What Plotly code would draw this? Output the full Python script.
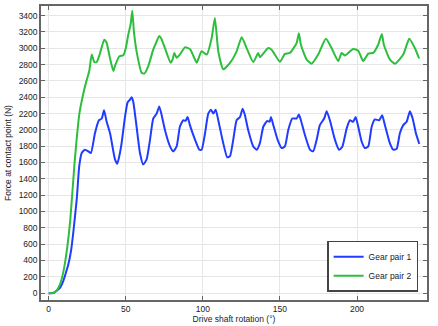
import plotly.graph_objects as go

# Drive shaft rotation (deg) and force (N) for each gear pair
x_pair1 = [0, 3, 5.2, 7.5, 9.5, 11, 12.7, 14.5, 16, 18.2, 19.8, 21.4, 23.5, 25.7, 27.4, 30, 32.6, 34.4, 35.9, 37.6,
           39.8, 43, 44.5, 46.2, 47.3, 49.5, 51.2, 52.7, 53.8, 54.9, 57, 59.2, 61.3, 63.5, 65.7, 67.8, 70, 71.7, 73.3,
           75.4, 78.7, 80.8, 83, 85.1, 87.3, 88.8, 90.1, 91.6, 94.9, 97.7, 99.2, 101.4, 103.5, 105.3, 106.8, 108.3,
           110, 113.2, 115.8, 117.6, 119.7, 121.9, 124.1, 125.8, 127.3, 129.4, 132.7, 134.9, 137, 139.2, 141.8, 143.3,
           144.2, 145.7, 148.5, 151.1, 153.2, 155.4, 158, 160.8, 162.3, 163.6, 166.2, 169.5, 171.6, 173.8, 175.9,
           178.7, 180.3, 182.4, 185.7, 188.3, 190.4, 193.3, 195.4, 197.5, 199.1, 200.8, 203, 205.1, 207.3, 209.5,
           211.6, 214.4, 216.3, 218.1, 221.3, 223.5, 225.7, 227.8, 230, 232.2, 234.3, 236.1, 238.2, 240.4]
y_pair1 = [0, 0, 29, 70, 150, 240, 350, 520, 752, 1154, 1555, 1717, 1757, 1737, 1717, 1958, 2118, 2139, 2239, 2098,
           1958, 1637, 1584, 1717, 1838, 2158, 2339, 2368, 2399, 2339, 2038, 1717, 1576, 1637, 1877, 2139, 2199, 2287,
           2179, 1998, 1797, 1736, 1797, 2038, 2118, 2110, 2158, 2058, 1880, 1757, 1757, 1958, 2199, 2247, 2199, 2247,
           2118, 1838, 1664, 1677, 1877, 2118, 2158, 2259, 2179, 1998, 1797, 1757, 1838, 2038, 2110, 2100,
           2158, 2058, 1877, 1777, 1797, 1998, 2139, 2139, 2187, 2118, 1938, 1757, 1737, 1877, 2058,
           2139, 2227, 2118, 1877, 1757, 1790, 2018, 2118, 2098, 2158, 2038, 1857, 1777, 1797, 2038,
           2127, 2118, 2179, 2058, 1838, 1757, 1767, 1958, 2058, 2098, 2227, 2139, 1958, 1829]

x_pair2 = [0, 3, 5, 7.3, 9.5, 11.7, 14, 16.6, 18.2, 19.9, 22.4, 24.5, 26.3, 27.9, 29.6, 31.1, 33, 36, 37.5, 39.5,
           41.9, 43, 45.8, 48.4, 50, 51.6, 53.2, 54.2, 55.3, 57, 60.3, 62, 64.6, 67.8, 69.5, 71.7, 73, 75.4, 79.1,
           80.5, 81.5, 83, 85, 88.4, 91.6, 94.9, 96, 99.2, 102.5, 105.7, 107.8, 110, 113.2, 117.6, 121.9, 125.2,
           128.4, 132.7, 135.9, 137, 142.4, 144.6, 150, 153.2, 156.5, 160.8, 162.3, 163.6, 167.3, 170.6, 174.8,
           179.8, 183.5, 187.8, 190, 192.2, 197.5, 200.8, 204, 207.3, 210.5, 213.7, 216.1, 217.4, 221.3, 224.6,
           230, 233.9, 237.5, 240.3]
y_pair2 = [0, 5, 30, 108, 260, 514, 900, 1555, 1900, 2200, 2440, 2600, 2720, 2922, 2830, 2830, 2920, 3103, 3070, 2900,
           2720, 2782, 2900, 2914, 3000, 3164, 3300, 3460, 3200, 2962, 2700, 2690, 2782, 2982, 3060, 3150, 3120, 3002,
           2821, 2870, 2942, 2882, 2920, 3010, 2990, 2861, 2821, 2962, 2922, 3123, 3370, 2962, 2742, 2821, 2962, 3135,
           3002, 2830, 2942, 2890, 3002, 2982, 2833, 2930, 2942, 3062, 3183, 3042, 2862, 2810, 2922,
           3115, 3002, 2842, 2942, 2910, 2990, 2970, 2842, 2934, 2942, 3042, 3175, 3042, 2862, 2810,
           2922, 3115, 3002, 2874]

x_ticks = [0, 50, 100, 150, 200]
y_ticks = list(range(0, 3401, 200))

FONT = "Liberation Sans"
AX = "#666666"

fig = go.Figure()
fig.add_trace(go.Scatter(x=x_pair1, y=y_pair1, mode="lines", name="Gear pair 1",
                         line=dict(color="#1f3cff", width=2, shape="spline", smoothing=0.5)))
fig.add_trace(go.Scatter(x=x_pair2, y=y_pair2, mode="lines", name="Gear pair 2",
                         line=dict(color="#2cbf3c", width=2, shape="spline", smoothing=0.5)))

axis_common = dict(showline=True, linecolor=AX, linewidth=1.5, mirror="ticks",
                   ticks="inside", ticklen=4, tickcolor=AX, tickwidth=1,
                   showgrid=True, gridcolor="#e6e6e6", gridwidth=1, zeroline=False,
                   tickfont=dict(family=FONT, size=8.5, color="#222222"))

fig.update_xaxes(range=[-5.0, 245.4], tickvals=x_ticks,
                 title=dict(text="Drive shaft rotation (°)", standoff=2,
                            font=dict(family=FONT, size=8.5, color="#222222")),
                 **axis_common)
fig.update_yaxes(range=[-84, 3517], tickvals=y_ticks,
                 title=dict(text="Force at contact point (N)", standoff=6,
                            font=dict(family=FONT, size=8.5, color="#222222")),
                 **axis_common)

fig.update_layout(
    width=438, height=326,
    margin=dict(l=41, r=11, t=4, b=23),
    paper_bgcolor="white", plot_bgcolor="white",
    font=dict(family=FONT, size=8.5, color="#222222"),
    showlegend=True,
    legend=dict(x=0.977, y=0.028, xanchor="right", yanchor="bottom",
                bgcolor="white", bordercolor="#444444", borderwidth=1.5,
                font=dict(family=FONT, size=8.5, color="#222222"),
                tracegroupgap=0, itemwidth=30),
)

fig.write_html("out.html")
